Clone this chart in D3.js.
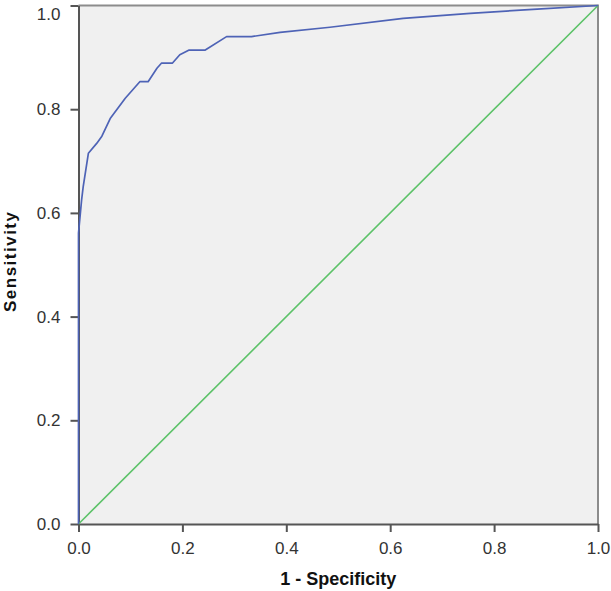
<!DOCTYPE html>
<html><head><meta charset="utf-8">
<script src="https://cdn.jsdelivr.net/npm/d3@7"></script>
<style>body{margin:0;background:#fff}</style>
</head><body>
<script>
const fpr = [0, 0, 0.006, 0.009, 0.019, 0.035, 0.045, 0.061, 0.090, 0.118, 0.134, 0.151, 0.160, 0.181, 0.195, 0.213, 0.244, 0.285, 0.333, 0.388, 0.484, 0.625, 0.754, 0.883, 1];
const tpr = [0, 0.561, 0.625, 0.650, 0.715, 0.734, 0.748, 0.782, 0.821, 0.853, 0.853, 0.879, 0.889, 0.889, 0.905, 0.914, 0.914, 0.940, 0.940, 0.948, 0.958, 0.975, 0.985, 0.993, 1];
const refX = [0, 1];
const refY = [0, 1];
const ticks = [0, 0.2, 0.4, 0.6, 0.8, 1.0];
const tickLabels = ["0.0", "0.2", "0.4", "0.6", "0.8", "1.0"];

const W = 611, H = 591;
const L = 78.5, R = 598, T = 5.5, B = 524;
const svg = d3.select("body").append("svg").attr("width", W).attr("height", H);
const x = d3.scaleLinear().domain([0, 1]).range([L, R]);
const y = d3.scaleLinear().domain([0, 1]).range([B, T]);

svg.append("rect").attr("x", L).attr("y", T).attr("width", R - L).attr("height", B - T).attr("fill", "#f0f0f0");

// frame top/right
svg.append("path").attr("d", `M${L},${T}H${R}V${B}`).attr("fill", "none").attr("stroke", "#8c8c8c").attr("stroke-width", 2);

const font = "'Liberation Sans', Arial, sans-serif";
const xAxis = d3.axisBottom(x).tickValues(ticks).tickFormat((d, i) => tickLabels[i]).tickSize(8).tickSizeOuter(0).tickPadding(10);
const gx = svg.append("g").attr("transform", `translate(0,${B})`).call(xAxis);
const yAxis = d3.axisLeft(y).tickValues(ticks).tickFormat((d, i) => tickLabels[i]).tickSize(8).tickSizeOuter(0).tickPadding(10);
const gy = svg.append("g").attr("transform", `translate(${L},0)`).call(yAxis);
[gx, gy].forEach(g => {
  g.select(".domain").attr("stroke", "#555").attr("stroke-width", 2);
  g.selectAll(".tick line").attr("stroke", "#555").attr("stroke-width", 2);
  g.selectAll(".tick text").attr("font-family", font).attr("font-size", 17).attr("fill", "#333");
});
gy.selectAll(".tick").filter(d => d === 1).select("text").attr("dy", "0.85em");

// reference line
svg.append("path").datum(refX.map((d, i) => [d, refY[i]]))
  .attr("d", d3.line().x(d => x(d[0])).y(d => y(d[1])))
  .attr("fill", "none").attr("stroke", "#5cc268").attr("stroke-width", 1.6);

// ROC curve
svg.append("path").datum(fpr.map((d, i) => [d, tpr[i]]))
  .attr("d", d3.line().x(d => x(d[0])).y(d => y(d[1])))
  .attr("fill", "none").attr("stroke", "#4e63b6").attr("stroke-width", 1.7).attr("stroke-linejoin", "round");

svg.append("text").attr("x", (L + R) / 2).attr("y", 585).attr("text-anchor", "middle")
  .attr("font-family", font).attr("font-weight", "bold").attr("font-size", 18).attr("fill", "#111").text("1 - Specificity");
svg.append("text").attr("transform", `translate(15.5,262) rotate(-90)`).attr("text-anchor", "middle")
  .attr("font-family", font).attr("font-weight", "bold").attr("font-size", 17)
  .attr("textLength", 100).attr("lengthAdjust", "spacing").attr("fill", "#111").text("Sensitivity");
</script>
</body></html>
